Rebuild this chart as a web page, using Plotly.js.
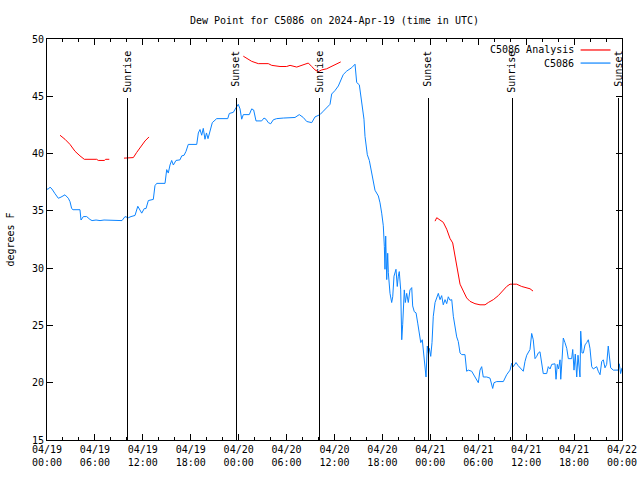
<!DOCTYPE html>
<html>
<head>
<meta charset="utf-8">
<script src="https://cdn.plot.ly/plotly-3.0.1.min.js"></script>
<style>html,body{margin:0;padding:0;background:#fff;}#chart{width:640px;height:480px;}</style>
</head>
<body>
<div id="chart"></div>
<script>
// Hours since 2024-04-19 00:00 UTC
var obsHours = [0,0.16,0.38,0.63,1.00,1.42,1.75,2.25,2.67,2.88,3.09,3.26,4.13,4.26,4.55,4.97,5.38,5.64,6.14,6.64,7.14,7.64,8.14,8.89,9.39,9.77,10.18,10.52,11.02,11.37,11.65,11.86,12.18,12.40,12.69,13.31,13.52,13.74,14.15,14.78,14.99,15.19,15.40,15.61,15.82,16.15,16.65,16.87,17.16,17.41,17.69,18.75,18.95,19.16,19.37,19.57,19.78,19.97,20.16,20.41,20.70,21.25,22.63,22.83,23.33,23.67,23.95,24.17,24.38,24.58,25.33,25.63,25.88,26.17,26.88,27.17,27.42,27.71,28.01,28.34,28.76,29.59,31.05,31.59,32.09,32.52,33.15,33.56,34.18,34.60,35.02,35.44,35.65,36.06,36.48,36.69,37.10,37.53,38.16,38.57,38.78,39.11,39.32,39.48,39.69,39.82,39.94,40.11,40.36,40.53,40.78,40.86,41.07,41.49,41.70,41.91,42.11,42.24,42.32,42.41,42.54,42.66,42.74,42.95,43.16,43.29,43.45,43.70,43.86,43.99,44.11,44.29,44.42,44.54,44.74,44.87,45.04,45.24,45.45,45.67,45.79,45.99,46.21,46.42,46.62,46.80,46.99,47.15,47.33,47.46,47.62,47.75,47.87,48.05,48.21,48.37,48.59,48.80,49.00,49.21,49.42,49.62,49.84,50.05,50.25,50.46,50.68,50.88,51.09,51.30,51.50,51.72,51.93,52.34,52.55,52.75,53.18,53.59,54.01,54.22,54.43,54.63,55.06,55.47,55.81,55.97,56.31,57.14,57.56,57.98,58.19,58.39,58.73,58.98,59.44,59.64,59.85,60.07,60.48,60.69,60.89,61.11,61.32,61.52,61.73,61.94,62.14,62.57,62.77,62.99,63.20,63.61,63.74,63.90,64.05,64.24,64.33,64.49,64.65,64.86,65.08,65.28,65.70,65.83,65.99,66.15,66.33,66.49,66.74,66.83,66.99,67.16,67.37,67.58,67.78,67.99,68.21,68.41,68.62,68.83,69.03,69.25,69.46,69.66,69.87,70.08,70.28,70.43,70.58,70.91,71.33,71.53,71.66,71.83,72.00];
var obsDew = [36.9,36.9,37.07,36.9,36.5,36.1,36.2,36.4,36.1,35.8,35.2,35.1,35.1,34.2,34.5,34.5,34.25,34.15,34.2,34.15,34.2,34.2,34.15,34.15,34.15,34.5,34.4,34.5,34.6,35.4,35.07,34.8,35.2,35.2,35.9,36.0,37.2,37.4,37.4,37.4,38.6,38.3,39.0,39.4,39.0,39.4,39.45,39.8,39.85,40.2,40.8,40.8,41.8,42.1,41.6,42.2,41.25,41.8,41.3,42.0,42.7,43.05,43.05,43.5,43.6,44.0,44.3,43.9,43.0,43.4,43.4,43.9,43.8,42.85,42.85,43.1,43.0,42.7,42.6,42.95,43.05,43.1,43.15,43.4,43.15,42.8,42.7,43.2,43.4,43.7,44.0,44.3,45.2,45.5,45.9,46.3,46.9,47.2,47.5,47.8,46.2,46.0,45.0,43.9,43.0,41.5,40.7,39.9,39.4,38.8,38.0,37.4,36.8,36.3,35.7,34.8,33.7,31.9,29.9,32.8,29.0,31.3,29.6,27.8,27.0,27.5,29.3,29.9,28.4,29.3,29.7,28.1,23.75,25.1,28.1,27.0,27.8,27.0,28.1,28.3,26.7,26.2,26.1,25.2,24.3,23.5,23.75,22.6,21.0,20.5,23.2,22.6,23.0,22.3,23.5,25.8,27.0,27.5,27.8,27.25,27.6,26.8,27.25,26.9,27.5,27.2,27.25,25.8,24.9,24.0,23.6,22.6,22.45,22.45,21.0,21.1,21.0,20.5,20.0,21.1,21.4,20.5,20.5,20.4,19.5,20.0,20.1,20.1,20.7,21.1,21.7,21.4,21.76,21.5,21.1,21.0,21.85,22.4,22.9,24.3,23.75,22.1,22.3,22.6,22.7,21.85,20.8,20.8,21.4,21.2,21.6,21.65,20.3,21.6,21.2,22.0,20.3,22.0,23.9,23.5,23.0,22.1,22.1,22.9,21.1,22.5,20.5,22.4,20.5,24.5,22.6,22.6,23.3,23.5,23.75,23.0,21.4,21.2,21.3,21.4,21.0,20.7,21.85,22.0,21.3,21.6,23.2,22.4,21.3,21.1,21.1,21.1,21.65,20.8,21.3];

var anaHours = [1.63,2.25,2.88,3.51,4.13,4.67,6.22,6.42,7.18,7.35,7.80,null,9.64,10.39,10.81,11.23,11.86,12.27,12.77,null,24.58,25.01,25.63,26.46,27.71,28.14,29.18,30.01,30.43,31.27,32.31,32.72,33.15,33.56,33.97,34.40,35.02,35.65,36.28,36.78,null,48.59,48.80,49.21,49.62,50.05,50.46,50.80,51.09,51.38,51.72,52.13,52.55,52.97,53.59,54.22,54.85,55.26,55.89,56.51,57.14,57.56,57.98,58.81,59.44,60.07,60.48,60.86];
var anaDew = [41.6,41.25,40.8,40.2,39.8,39.5,39.5,39.4,39.4,39.5,39.5,null,39.6,39.6,39.65,40.1,40.7,41.1,41.45,null,48.5,48.3,48.05,47.85,47.85,47.7,47.6,47.6,47.7,47.55,47.8,47.9,47.6,47.3,47.15,47.3,47.4,47.6,47.8,48.0,null,34.1,34.4,34.2,34.0,33.4,32.6,32.2,31.0,29.9,28.6,28.0,27.4,27.1,26.9,26.8,26.8,27.0,27.25,27.6,28.1,28.4,28.6,28.6,28.4,28.3,28.2,28.0];

var eventHours = [10.14,23.67,34.18,47.71,58.23,71.6];
var eventLabels = ['Sunrise','Sunset','Sunrise','Sunset','Sunrise','Sunset'];

var tickHours = [0,6,12,18,24,30,36,42,48,54,60,66,72];
var tickLabels = ['04/19<br>00:00','04/19<br>06:00','04/19<br>12:00','04/19<br>18:00','04/20<br>00:00','04/20<br>06:00','04/20<br>12:00','04/20<br>18:00','04/21<br>00:00','04/21<br>06:00','04/21<br>12:00','04/21<br>18:00','04/22<br>00:00'];

var seriesNames = ['C5086 Analysis','C5086'];
var seriesColors = ['#ff0000','#0b84ff'];

var font = {family:'DejaVu Sans Mono, monospace', size:10, color:'#000'};

var traces = [
  {x:anaHours, y:anaDew, mode:'lines', name:seriesNames[0], line:{color:seriesColors[0], width:1}, connectgaps:false},
  {x:obsHours, y:obsDew, mode:'lines', name:seriesNames[1], line:{color:seriesColors[1], width:1}}
];

var shapes = [];
var annotations = [];
eventHours.forEach(function(h, i){
  shapes.push({type:'line', xref:'x', yref:'paper', x0:h, x1:h, y0:0, y1:0.852, line:{color:'#000', width:1}});
  annotations.push({x:h, y:0.973, xref:'x', yref:'paper', text:eventLabels[i], textangle:-90, showarrow:false, xanchor:'center', yanchor:'top', font:font, borderpad:0});
});
// legend (gnuplot style: text then sample line)
var legRows = [0.9726, 0.940];
seriesNames.forEach(function(n, i){
  annotations.push({x:0.918, y:legRows[i], xref:'paper', yref:'paper', text:n, showarrow:false, xanchor:'right', yanchor:'middle', font:font, borderpad:0});
  shapes.push({type:'line', xref:'paper', yref:'paper', x0:0.928, x1:0.98, y0:legRows[i], y1:legRows[i], line:{color:seriesColors[i], width:1.2}});
});

var layout = {
  width:640, height:480,
  margin:{l:47, r:18, t:39, b:40},
  paper_bgcolor:'#fff', plot_bgcolor:'#fff',
  font:font,
  showlegend:false,
  title:{text:'Dew Point for C5086 on 2024-Apr-19 (time in UTC)', x:0.5, xref:'paper', y:0.958, yref:'container', yanchor:'middle', font:font},
  xaxis:{range:[0,72], tickmode:'array', tickvals:tickHours, ticktext:tickLabels, ticks:'inside', ticklen:6, tickcolor:'#000', showline:true, linecolor:'#000', linewidth:1, mirror:'allticks', showgrid:false, zeroline:false, tickfont:font,
    minor:{tickmode:'linear', tick0:0, dtick:2, ticks:'inside', ticklen:3, tickcolor:'#000', showgrid:false}},
  yaxis:{range:[15,50], dtick:5, tick0:15, ticks:'inside', ticklen:6, tickcolor:'#000', showline:true, linecolor:'#000', linewidth:1, mirror:'allticks', showgrid:false, zeroline:false, tickfont:font,
    title:{text:'degrees F', font:font, standoff:15}},
  shapes:shapes,
  annotations:annotations
};

Plotly.newPlot('chart', traces, layout, {staticPlot:true, displayModeBar:false}).then(function(gd){
  gd.querySelectorAll('.shapelayer path').forEach(function(p){
    var idx = parseInt(p.getAttribute('data-index'), 10);
    if (!isNaN(idx) && idx < eventHours.length) p.setAttribute('shape-rendering','crispEdges');
  });
});
</script>
</body>
</html>
